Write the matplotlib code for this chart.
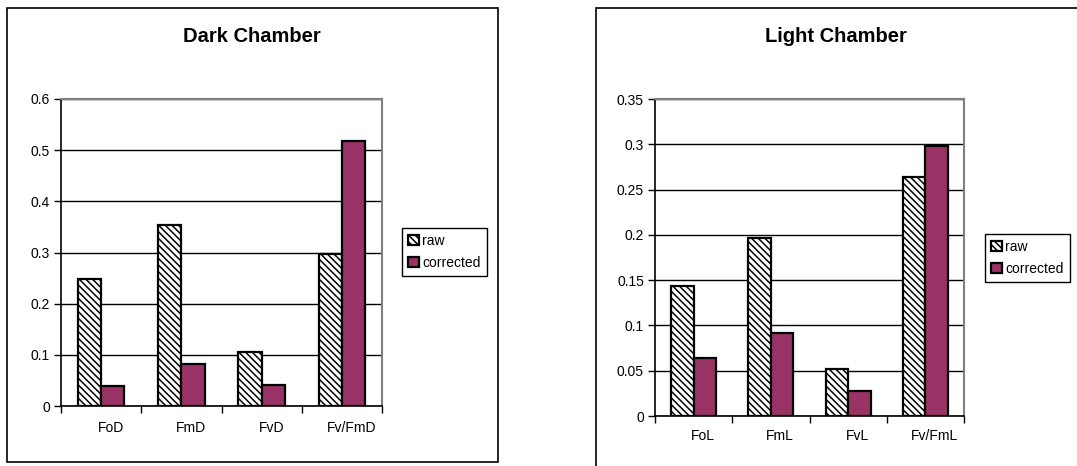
import matplotlib
matplotlib.use("Agg")
import matplotlib.pyplot as plt
import numpy as np
from matplotlib.patches import Rectangle

# ---- data ----
dark_categories = ["FoD", "FmD", "FvD", "Fv/FmD"]
dark_raw = [0.249, 0.354, 0.106, 0.298]
dark_corrected = [0.039, 0.082, 0.042, 0.517]

light_categories = ["FoL", "FmL", "FvL", "Fv/FmL"]
light_raw = [0.144, 0.196, 0.052, 0.264]
light_corrected = [0.064, 0.092, 0.028, 0.298]

series_names = ["raw", "corrected"]
dark_title = "Dark Chamber"
light_title = "Light Chamber"
dark_yticks = [0, 0.1, 0.2, 0.3, 0.4, 0.5, 0.6]
dark_yticklabels = ["0", "0.1", "0.2", "0.3", "0.4", "0.5", "0.6"]
light_yticks = [0, 0.05, 0.1, 0.15, 0.2, 0.25, 0.3, 0.35]
light_yticklabels = ["0", "0.05", "0.1", "0.15", "0.2", "0.25", "0.3", "0.35"]

# ---- style ----
plt.rcParams['font.family'] = ['Liberation Sans', 'DejaVu Sans']
plt.rcParams['hatch.linewidth'] = 1.1
W, H = 1077, 466
fig = plt.figure(figsize=(W / 100, H / 100), dpi=100)
fig.patch.set_facecolor('white')

PLUM = '#993366'
BAR_W = 0.29


def px_rect(x0, y0, x1, y1):
    return [x0 / W, 1 - y1 / H, (x1 - x0) / W, (y1 - y0) / H]


def draw_chart(axrect, cats, raw, corr, yticks, yticklabels, ymax, title, title_xy, leg_xy, lab_off):
    ax = fig.add_axes(px_rect(*axrect))
    x = np.arange(len(cats))
    b1 = ax.bar(x - BAR_W / 2, raw, BAR_W, facecolor='white', edgecolor='black',
                hatch='\\' * 5, linewidth=1.6, label=series_names[0], zorder=3)
    b2 = ax.bar(x + BAR_W / 2, corr, BAR_W, facecolor=PLUM, edgecolor='black',
                linewidth=1.6, label=series_names[1], zorder=3)
    ax.set_xlim(-0.5, len(cats) - 0.5)
    ax.set_ylim(0, ymax)
    ax.set_yticks(yticks)
    ax.set_yticklabels(yticklabels, fontsize=10)
    ax.yaxis.grid(True, color='black', linewidth=1.0, zorder=0)
    ax.set_axisbelow(True)
    ax.set_xticks(np.arange(len(cats) + 1) - 0.5)
    ax.set_xticklabels([])
    ax.tick_params(axis='x', direction='out', length=5, width=1, color='black')
    ax.tick_params(axis='y', direction='out', length=5, width=1, color='black', pad=3)
    for i, c in enumerate(cats):
        ax.annotate(c, xy=(i + 0.12, 0), xycoords=ax.get_xaxis_transform(),
                    xytext=(0, -lab_off), textcoords='offset pixels',
                    ha='center', va='center', fontsize=10)
    for s in ['top', 'right']:
        ax.spines[s].set_color('#808080')
        ax.spines[s].set_linewidth(1.5)
    for s in ['left', 'bottom']:
        ax.spines[s].set_color('black')
        ax.spines[s].set_linewidth(1.2)
    fig.text(title_xy[0] / W, 1 - title_xy[1] / H, title, ha='center', va='center',
             fontsize=14.5, fontweight='bold')
    leg = ax.legend(handles=[b1, b2], loc='center left',
                    bbox_to_anchor=(leg_xy[0] / W, 1 - leg_xy[1] / H),
                    bbox_transform=fig.transFigure, fontsize=10,
                    fancybox=False, edgecolor='black', framealpha=1,
                    handlelength=0.75, handleheight=0.75, handletextpad=0.25,
                    borderpad=0.45, labelspacing=0.55, borderaxespad=0)
    leg.get_frame().set_linewidth(1.0)
    return ax


# outer chart frames
fig.add_artist(Rectangle((7 / W, 1 - 462 / H), (498 - 7) / W, (462 - 8) / H,
                         transform=fig.transFigure, fill=False, edgecolor='black', linewidth=1.2))
fig.add_artist(Rectangle((596 / W, 1 - 520 / H), (1200 - 596) / W, (520 - 8) / H,
                         transform=fig.transFigure, fill=False, edgecolor='black', linewidth=1.2))

draw_chart((61, 99, 382, 406), dark_categories, dark_raw, dark_corrected,
           dark_yticks, dark_yticklabels, 0.6, dark_title, (252, 36), (402, 252), 22)
draw_chart((655, 99, 964, 416), light_categories, light_raw, light_corrected,
           light_yticks, light_yticklabels, 0.35, light_title, (836, 36), (985, 258), 20)

fig.savefig('out.png', dpi=100)
